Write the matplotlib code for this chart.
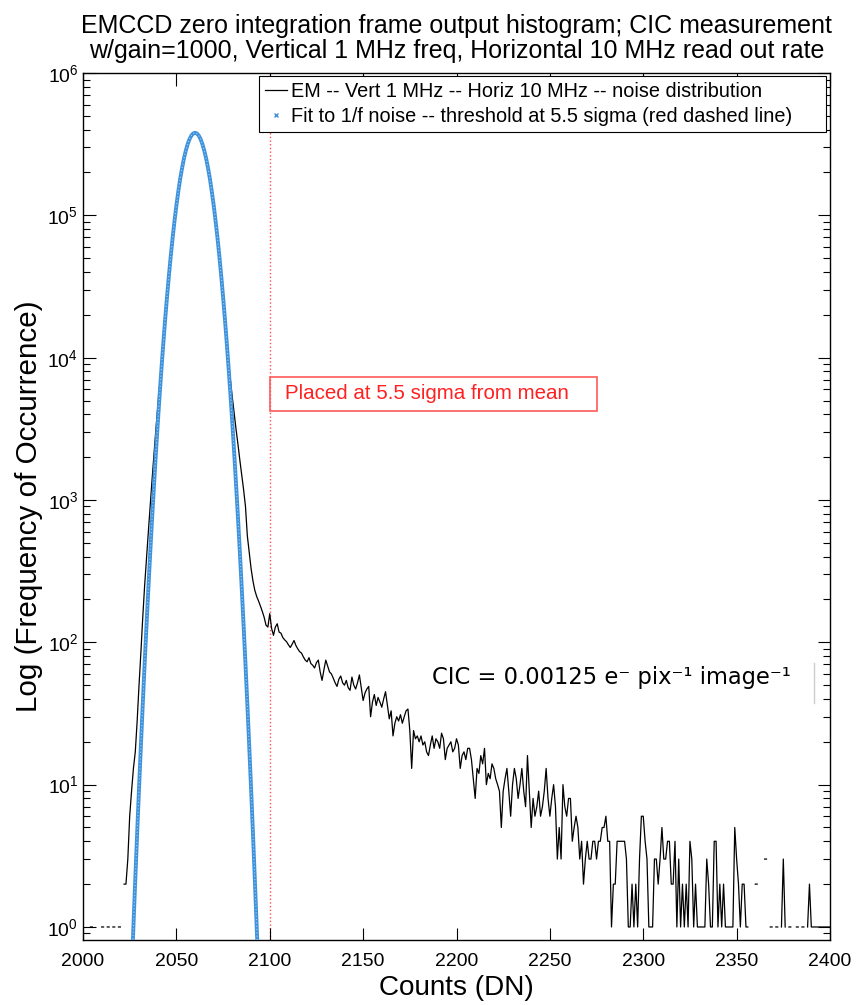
import numpy as np
import matplotlib
matplotlib.use("Agg")
import matplotlib.pyplot as plt
from matplotlib import font_manager
from matplotlib.lines import Line2D
from matplotlib.patches import Rectangle

# histogram of the zero-integration frame, one bin per DN starting at 2000
first_dn = 2000
em_counts = [
    0, 0, 0, 0, 1, 1, 0, 0, 0, 0,
    1, 1, 0, 1, 1, 0, 1, 1, 0, 1,
    1, 0, 2, 2, 3, 6, 9, 13, 17, 28,
    50, 85, 150, 250, 390, 600, 920, 1400, 2100, 3100,
    4500, 6400, 9100, 13100, 18900, 26800, 37700, 51900, 69700, 91200,
    117000, 146000, 179000, 213000, 249000, 283000, 315000, 342000, 363000, 376000,
    380000, 376000, 363000, 342000, 315000, 283000, 249000, 213000, 179000, 146000,
    117000, 91200, 69700, 51900, 37700, 26800, 18900, 13000, 9000, 6800,
    5200, 4000, 3100, 2450, 1900, 1500, 1180, 900, 560, 430,
    330, 270, 232, 210, 195, 180, 165, 150, 132, 128,
    159, 125, 112, 128, 135, 118, 116, 108, 104, 101,
    96, 92, 97, 103, 95, 90, 86, 84, 79, 75,
    73, 78, 71, 69, 66, 72, 75, 62, 54, 64,
    75, 68, 62, 60, 56, 52, 49, 55, 58, 52,
    50, 54, 48, 46, 57, 50, 47, 52, 59, 48,
    39, 44, 47, 49, 30, 38, 43, 36, 41, 38,
    35, 40, 45, 36, 29, 33, 22, 27, 30, 28,
    31, 27, 30, 33, 34, 24, 13, 24, 21, 22,
    20, 22, 19, 20, 17, 16, 19, 22, 18, 21,
    20, 18, 23, 21, 15, 18, 19, 20, 17, 18,
    21, 19, 13, 16, 17, 15, 18, 18, 15, 11,
    8, 13, 12, 16, 14, 18, 10, 12, 11, 14,
    13, 11, 10, 9, 5, 9, 11, 13, 9, 6,
    10, 13, 11, 8, 10, 13, 9, 7, 16, 9,
    5, 8, 6, 7, 9, 6, 7, 9, 13, 8,
    6, 8, 10, 7, 3, 5, 3, 10, 7, 6,
    8, 8, 4, 5, 6, 5, 3, 4, 2, 3,
    4, 3, 3, 4, 4, 3, 4, 4, 5, 5,
    6, 4, 4, 1, 2, 2, 4, 4, 4, 4,
    4, 3, 1, 1, 2, 1, 2, 1, 3, 6,
    6, 4, 3, 1, 1, 1, 3, 3, 2, 3,
    5, 3, 3, 4, 4, 2, 2, 4, 1, 3,
    1, 2, 1, 2, 1, 4, 3, 1, 2, 1,
    1, 1, 1, 1, 3, 2, 1, 1, 4, 4,
    1, 2, 1, 2, 1, 1, 1, 1, 1, 5,
    3, 2, 1, 2, 2, 1, 1, 0, 0, 0,
    2, 2, 0, 0, 0, 3, 3, 0, 1, 1,
    0, 1, 1, 0, 1, 3, 1, 0, 1, 1,
    0, 0, 1, 1, 0, 1, 1, 0, 1, 2,
    1, 1, 1, 1, 1, 1, 1, 1, 1, 1,
    1,
]

# fitted read-noise curve, one value per DN starting at 2024
fit_first_dn = 2024
fit_counts = [
    0.088, 0.20, 0.46, 1.01, 2.17, 4.57, 9.4, 18.8, 36.8, 70.5,
    131, 240, 428, 745, 1260, 2100, 3400, 5390, 8340, 12600,
    18600, 26800, 37700, 51900, 69700, 91200, 117000, 146000, 179000, 213000,
    249000, 283000, 315000, 342000, 363000, 376000, 380000, 376000, 363000, 342000,
    315000, 283000, 249000, 213000, 179000, 146000, 117000, 91200, 69700, 51900,
    37700, 26800, 18600, 12600, 8340, 5390, 3400, 2100, 1260, 745,
    428, 240, 131, 70.5, 36.8, 18.8, 9.4, 4.57, 2.17, 1.01,
    0.46, 0.20, 0.088,
]

threshold_dn = 2100
x_ticks = [2000, 2050, 2100, 2150, 2200, 2250, 2300, 2350, 2400]

names = {f.name for f in font_manager.fontManager.ttflist}
if "Liberation Sans Narrow" in names:
    narrow, k = "Liberation Sans Narrow", 1.0
else:
    narrow, k = "Liberation Sans", 0.82
plt.rcParams["font.family"] = [narrow, "DejaVu Sans"]

fig = plt.figure(figsize=(8.57, 10.05), dpi=100)
ax = fig.add_axes([83 / 857, 1 - 940 / 1005, 747 / 857, 867 / 1005])

dn = np.arange(first_dn, first_dn + len(em_counts))
hist = np.array(em_counts, dtype=float)
hist[hist == 0] = np.nan  # empty bins are not drawn on the log axis
em_line, = ax.plot(dn, hist, color="black", lw=0.9, zorder=2)

fit_dn = np.arange(fit_first_dn, fit_first_dn + len(fit_counts))
blue = "#3f93dc"
ax.plot(fit_dn, fit_counts, color=blue, lw=2.8, zorder=3)
ax.plot(fit_dn, fit_counts, color="white", lw=0.8, ls=(0, (1, 2)), alpha=0.55, zorder=3)

ax.axvline(threshold_dn, color="#ff5050", ls=":", lw=1.0, zorder=1)

ax.set_yscale("log")
ax.set_xlim(2000, 2400)
ax.set_ylim(0.81, 1e6)
ax.set_xticks(x_ticks)
ax.tick_params(which="both", direction="in", top=True, right=True,
               labelsize=17 * k, width=0.8)
ax.tick_params(which="major", length=9)
ax.tick_params(axis="x", pad=9)
ax.tick_params(which="minor", length=5)
ax.xaxis.get_offset_text().set_visible(False)
ax.yaxis.get_offset_text().set_visible(False)
for s in ax.spines.values():
    s.set_linewidth(1.0)

ax.set_xlabel("Counts (DN)", fontsize=24.5 * k, labelpad=4)
ax.set_ylabel("Log (Frequency of Occurrence)", fontsize=26 * k, labelpad=3)
ax.set_title("EMCCD zero integration frame output histogram; CIC measurement\n"
             "w/gain=1000, Vertical 1 MHz freq, Horizontal 10 MHz read out rate",
             fontsize=22 * k, pad=11, linespacing=1.05)

fit_handle = Line2D([], [], ls="none", marker="x", ms=3, mew=1, color=blue)
leg = ax.legend([em_line, fit_handle],
                ["EM -- Vert 1 MHz -- Horiz 10 MHz -- noise distribution",
                 "Fit to 1/f noise -- threshold at 5.5 sigma (red dashed line)"],
                loc="upper left", bbox_to_anchor=(0.2356, 0.9965, 0.759, 0.0),
                mode="expand", fontsize=17.5 * k, frameon=True, fancybox=False,
                framealpha=1, edgecolor="black", borderaxespad=0.0, borderpad=0.3,
                handlelength=1.1, handletextpad=0.2, labelspacing=0.32)
leg.get_frame().set_linewidth(0.8)
leg.set_zorder(5)

ax.add_patch(Rectangle((0.2503, 0.6105), 0.4377, 0.0392, transform=ax.transAxes,
                       fill=False, edgecolor="#ff5a5a", lw=1.2, zorder=4))
ax.text(0.2704, 0.624, "Placed at 5.5 sigma from mean", transform=ax.transAxes,
        color="#ff2020", fontsize=14.8, family="Liberation Sans", va="baseline")

ax.text(0.4668, 0.2953, "CIC = 0.00125 e\u207b pix\u207b\u00b9 image\u207b\u00b9",
        transform=ax.transAxes, fontsize=16.3, family="DejaVu Sans", va="baseline")
ax.plot([0.9786, 0.9786], [0.2734, 0.3195], transform=ax.transAxes,
        color="#cccccc", lw=1)

fig.savefig("out.png", dpi=100)
